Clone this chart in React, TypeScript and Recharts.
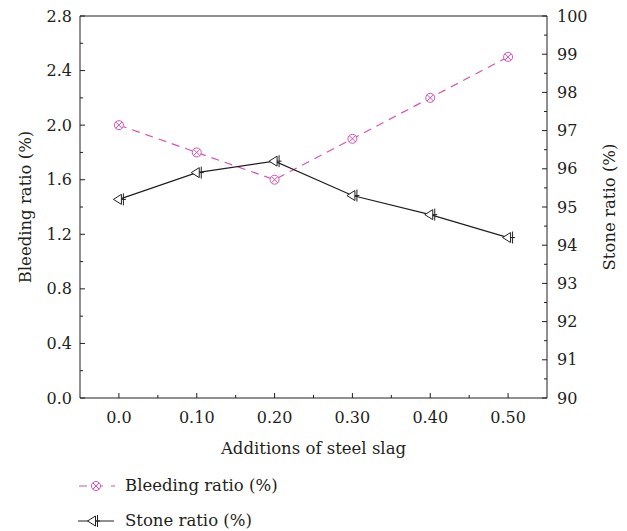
import React from "react";
import { LineChart, Line, XAxis, YAxis, ReferenceLine } from "recharts";

const xValues = [0, 0.1, 0.2, 0.3, 0.4, 0.5];
const xTickLabels = ["0.0", "0.10", "0.20", "0.30", "0.40", "0.50"];
const bleedingRatio = [2.0, 1.8, 1.6, 1.9, 2.2, 2.5];
const stoneRatio = [95.2, 95.9, 96.2, 95.3, 94.8, 94.2];
const leftMajorTicks = [0, 0.4, 0.8, 1.2, 1.6, 2.0, 2.4, 2.8];
const leftTickLabels = ["0.0", "0.4", "0.8", "1.2", "1.6", "2.0", "2.4", "2.8"];
const rightMajorTicks = [90, 91, 92, 93, 94, 95, 96, 97, 98, 99, 100];
const rightTickLabels = ["90", "91", "92", "93", "94", "95", "96", "97", "98", "99", "100"];

const PINK = "#d653b3";
const INK = "#231f20";
const FONT = "DejaVu Serif, serif";
const TICK_FS = 16;
const TITLE_FS = 16.5;

const data = xValues.map((x, i) => ({ x, bleeding: bleedingRatio[i], stone: stoneRatio[i] }));

const withMinors = (arr: number[]) =>
  arr.flatMap((v, i) => (i < arr.length - 1 ? [v, (v + arr[i + 1]) / 2] : [v]));

const xTicksAll = withMinors(xValues);
const leftTicksAll = withMinors(leftMajorTicks);
const rightTicksAll = withMinors(rightMajorTicks);

const findIdx = (arr: number[], v: number) => arr.findIndex((a) => Math.abs(a - v) < 1e-9);

const XTick = (props: any) => {
  const { x, y, payload } = props;
  const idx = findIdx(xValues, payload.value);
  const major = idx >= 0;
  return (
    <g>
      <line x1={x} y1={y} x2={x} y2={y - (major ? 5 : 3)} stroke={INK} strokeWidth={1} />
      {major && (
        <text x={x} y={y + 25} textAnchor="middle" fontSize={TICK_FS} fill={INK} style={{ fontFamily: FONT }}>
          {xTickLabels[idx]}
        </text>
      )}
    </g>
  );
};

const LeftTick = (props: any) => {
  const { x, y, payload } = props;
  const idx = findIdx(leftMajorTicks, payload.value);
  const major = idx >= 0;
  return (
    <g>
      <line x1={x} y1={y} x2={x + (major ? 5 : 3)} y2={y} stroke={INK} strokeWidth={1} />
      {major && (
        <text x={x - 8} y={y} dy="0.35em" textAnchor="end" fontSize={TICK_FS} fill={INK} style={{ fontFamily: FONT }}>
          {leftTickLabels[idx]}
        </text>
      )}
    </g>
  );
};

const RightTick = (props: any) => {
  const { x, y, payload } = props;
  const idx = findIdx(rightMajorTicks, payload.value);
  const major = idx >= 0;
  return (
    <g>
      <line x1={x} y1={y} x2={x - (major ? 5 : 3)} y2={y} stroke={INK} strokeWidth={1} />
      {major && (
        <text x={x + 10} y={y} dy="0.35em" textAnchor="start" fontSize={TICK_FS} fill={INK} style={{ fontFamily: FONT }}>
          {rightTickLabels[idx]}
        </text>
      )}
    </g>
  );
};

const BleedMarker = ({ cx, cy }: { cx: number; cy: number }) => (
  <g>
    <circle cx={cx} cy={cy} r={4.5} fill="#fff" stroke={PINK} strokeWidth={1} />
    <line x1={cx - 3.2} y1={cy - 3.2} x2={cx + 3.2} y2={cy + 3.2} stroke={PINK} strokeWidth={1} />
    <line x1={cx - 3.2} y1={cy + 3.2} x2={cx + 3.2} y2={cy - 3.2} stroke={PINK} strokeWidth={1} />
  </g>
);

const StoneMarker = ({ cx, cy }: { cx: number; cy: number }) => (
  <g>
    <polygon
      points={`${cx - 5.5},${cy} ${cx + 2.5},${cy - 5} ${cx + 2.5},${cy + 5}`}
      fill="#fff"
      stroke={INK}
      strokeWidth={1}
    />
    <line x1={cx + 4.5} y1={cy - 6} x2={cx + 4.5} y2={cy + 6} stroke={INK} strokeWidth={1} />
    <line x1={cx + 2.5} y1={cy} x2={cx + 7} y2={cy} stroke={INK} strokeWidth={1} />
  </g>
);

const BleedDot = (props: any) => {
  if (props.cx == null || props.cy == null) return <g key={props.index} />;
  return <g key={`b${props.index}`}><BleedMarker cx={props.cx} cy={props.cy} /></g>;
};
const StoneDot = (props: any) => {
  if (props.cx == null || props.cy == null) return <g key={props.index} />;
  return <g key={`s${props.index}`}><StoneMarker cx={props.cx} cy={props.cy} /></g>;
};

export default function App() {
  return (
    <div style={{ position: "absolute", left: 0, top: 0, width: 627, height: 531, fontFamily: FONT, background: "#fff" }}>
      <LineChart width={627} height={531} data={data} margin={{ top: 16, right: 20, bottom: 73, left: 20 }} style={{ fontFamily: FONT }}>
        <XAxis
          dataKey="x"
          type="number"
          domain={[-0.05, 0.55]}
          ticks={xTicksAll}
          interval={0}
          height={60}
          tickSize={0}
          tickMargin={0}
          tickLine={false}
          tick={<XTick />}
          axisLine={{ stroke: INK, strokeWidth: 1 }}
          label={{ value: "Additions of steel slag", position: "center", dy: 20, fontSize: TITLE_FS, fill: INK, style: { fontFamily: FONT } }}
        />
        <YAxis
          yAxisId="left"
          orientation="left"
          domain={[0, 2.8]}
          ticks={leftTicksAll}
          interval={0}
          width={60}
          tickSize={0}
          tickMargin={0}
          tickLine={false}
          tick={<LeftTick />}
          axisLine={{ stroke: INK, strokeWidth: 1 }}
          label={{ value: "Bleeding ratio (%)", angle: -90, position: "center", dx: -25, fontSize: TITLE_FS, fill: INK, style: { fontFamily: FONT } }}
        />
        <YAxis
          yAxisId="right"
          orientation="right"
          domain={[90, 100]}
          ticks={rightTicksAll}
          interval={0}
          width={60}
          tickSize={0}
          tickMargin={0}
          tickLine={false}
          tick={<RightTick />}
          axisLine={{ stroke: INK, strokeWidth: 1 }}
          label={{ value: "Stone ratio (%)", angle: -90, position: "center", dx: 32, fontSize: TITLE_FS, fill: INK, style: { fontFamily: FONT } }}
        />
        <ReferenceLine yAxisId="left" y={2.8} stroke={INK} strokeWidth={1} />
        <Line
          yAxisId="left"
          dataKey="bleeding"
          stroke={PINK}
          strokeWidth={1.2}
          strokeDasharray="8 6"
          dot={<BleedDot />}
          activeDot={false}
          isAnimationActive={false}
        />
        <Line
          yAxisId="right"
          dataKey="stone"
          stroke={INK}
          strokeWidth={1.2}
          dot={<StoneDot />}
          activeDot={false}
          isAnimationActive={false}
        />
      </LineChart>
      <div style={{ position: "absolute", left: 76, top: 476, fontSize: TITLE_FS, color: INK, lineHeight: "20px" }}>
        <div style={{ display: "flex", alignItems: "center", height: 20 }}>
          <svg width={40} height={20} style={{ marginRight: 9 }}>
            <line x1={2} y1={10} x2={39} y2={10} stroke={PINK} strokeWidth={1.2} strokeDasharray="8 8" strokeDashoffset={-1} />
            <BleedMarker cx={20} cy={10} />
          </svg>
          <span>Bleeding ratio (%)</span>
        </div>
        <div style={{ display: "flex", alignItems: "center", height: 20, marginTop: 15 }}>
          <svg width={40} height={20} style={{ marginRight: 9 }}>
            <line x1={2} y1={10} x2={38} y2={10} stroke={INK} strokeWidth={1.2} />
            <StoneMarker cx={17} cy={10} />
          </svg>
          <span>Stone ratio (%)</span>
        </div>
      </div>
    </div>
  );
}
